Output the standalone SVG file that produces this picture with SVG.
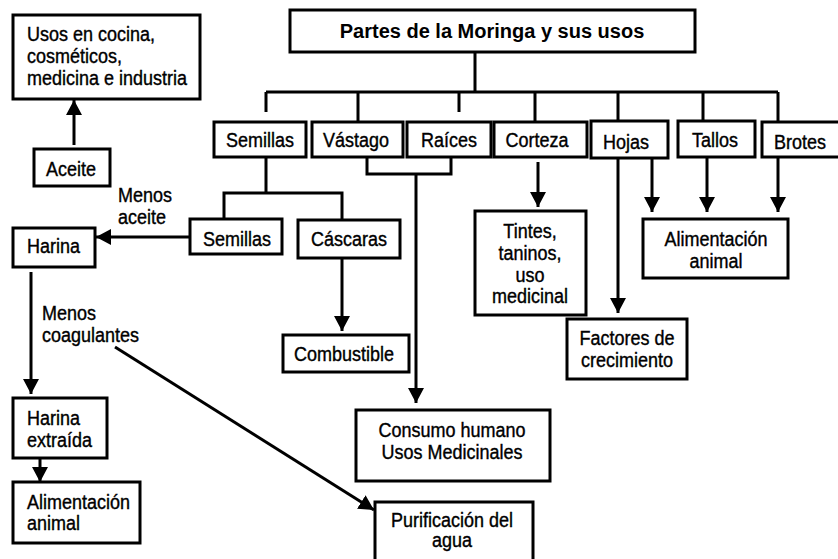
<svg xmlns="http://www.w3.org/2000/svg" width="838" height="559" viewBox="0 0 838 559">
<style>
.b{fill:#fff;stroke:#000;stroke-width:3}
.c{fill:none;stroke:#000;stroke-width:3}
.a{marker-end:url(#ah)}
.t{font-family:"Liberation Sans",Arial,sans-serif;font-size:18px;fill:#000;stroke:#000;stroke-width:0.35;transform-box:fill-box;transform-origin:50% 50%;transform:scaleY(1.12)}
.m{text-anchor:middle}
.h{font-family:"Liberation Sans",Arial,sans-serif;font-size:20px;font-weight:bold;text-anchor:middle;fill:#000}
</style>
<defs>
<marker id="ah" markerUnits="userSpaceOnUse" markerWidth="16" markerHeight="16" refX="15" refY="8" orient="auto">
<path d="M0,0 L15,8 L0,16 z" fill="#000"/>
</marker>
</defs>
<rect width="838" height="559" fill="#fff"/>
<g id="connectors">
<path class="c" d="M475 52V92M266 92H778M266 92V112M358 92V122M459 92V112M535 92V122M618 92V121M703 92V121M778 92V122"/>
<path class="c" d="M266 157V193M224 219V193H342V220"/>
<path class="c a" d="M190 237H96"/>
<path class="c a" d="M74 145V100"/>
<path class="c" d="M367 157V174H451V157"/>
<path class="c a" d="M416 174V403"/>
<path class="c a" d="M342 258V331"/>
<path class="c a" d="M31 272V394"/>
<path class="c a" d="M115 347L374 510"/>
<path class="c a" d="M40 443V482"/>
<path class="c a" d="M538 162V207"/>
<path class="c a" d="M618 158V313"/>
<path class="c a" d="M652 158V212"/>
<path class="c a" d="M707 158V212"/>
<path class="c a" d="M778 158V212"/>
</g>
<g id="title"><rect class="b" x="290" y="10" width="405" height="42"/><text class="h" x="492" y="38">Partes de la Moringa y sus usos</text></g>
<g id="usos"><rect class="b" x="13" y="15" width="187" height="84"/><text class="t" x="27" y="40">Usos en cocina,</text><text class="t" x="27" y="62">cosméticos,</text><text class="t" x="27" y="84">medicina e industria</text></g>
<g id="aceite"><rect class="b" x="34" y="149" width="76" height="37"/><text class="t m" x="71" y="175">Aceite</text></g>
<g id="semillas"><rect class="b" x="214" y="122" width="92" height="35"/><text class="t m" x="260" y="146">Semillas</text></g>
<g id="vastago"><rect class="b" x="312" y="122" width="91" height="35"/><text class="t m" x="356" y="146">Vástago</text></g>
<g id="raices"><rect class="b" x="407" y="122" width="84" height="35"/><text class="t m" x="449" y="146">Raíces</text></g>
<g id="corteza"><rect class="b" x="494" y="122" width="93" height="35"/><text class="t m" x="537" y="146">Corteza</text></g>
<g id="hojas"><rect class="b" x="591" y="121" width="77" height="37"/><text class="t m" x="626" y="148">Hojas</text></g>
<g id="tallos"><rect class="b" x="678" y="121" width="77" height="36"/><text class="t m" x="715" y="146">Tallos</text></g>
<g id="brotes"><rect class="b" x="762" y="122" width="82" height="35"/><text class="t m" x="800" y="148">Brotes</text></g>
<g id="menos-aceite"><text class="t" x="118" y="201">Menos</text><text class="t" x="118" y="223">aceite</text></g>
<g id="semillas2"><rect class="b" x="190" y="219" width="92" height="35"/><text class="t m" x="237" y="245">Semillas</text></g>
<g id="cascaras"><rect class="b" x="298" y="220" width="102" height="38"/><text class="t m" x="349" y="245">Cáscaras</text></g>
<g id="harina"><rect class="b" x="13" y="228" width="82" height="39"/><text class="t" x="27" y="252">Harina</text></g>
<g id="menos-coag"><text class="t" x="42" y="319">Menos</text><text class="t" x="42" y="341">coagulantes</text></g>
<g id="combustible"><rect class="b" x="283" y="335" width="126" height="37"/><text class="t m" x="344" y="360">Combustible</text></g>
<g id="harina-extraida"><rect class="b" x="13" y="398" width="94" height="60"/><text class="t" x="27" y="424">Harina</text><text class="t" x="27" y="446">extraída</text></g>
<g id="alim-left"><rect class="b" x="13" y="482" width="127" height="61"/><text class="t" x="27" y="508">Alimentación</text><text class="t" x="27" y="529">animal</text></g>
<g id="consumo"><rect class="b" x="356" y="410" width="194" height="71"/><text class="t m" x="452" y="436">Consumo humano</text><text class="t m" x="452" y="458">Usos Medicinales</text></g>
<g id="purificacion"><rect class="b" x="375" y="502" width="158" height="63"/><text class="t m" x="452" y="526">Purificación del</text><text class="t m" x="452" y="546">agua</text></g>
<g id="tintes"><rect class="b" x="475" y="211" width="111" height="104"/><text class="t m" x="530" y="237">Tintes,</text><text class="t m" x="530" y="259">taninos,</text><text class="t m" x="530" y="281">uso</text><text class="t m" x="530" y="302">medicinal</text></g>
<g id="factores"><rect class="b" x="567" y="319" width="120" height="60"/><text class="t m" x="627" y="344">Factores de</text><text class="t m" x="627" y="366">crecimiento</text></g>
<g id="alim-right"><rect class="b" x="643" y="219" width="145" height="59"/><text class="t m" x="716" y="245">Alimentación</text><text class="t m" x="716" y="267">animal</text></g>
</svg>
